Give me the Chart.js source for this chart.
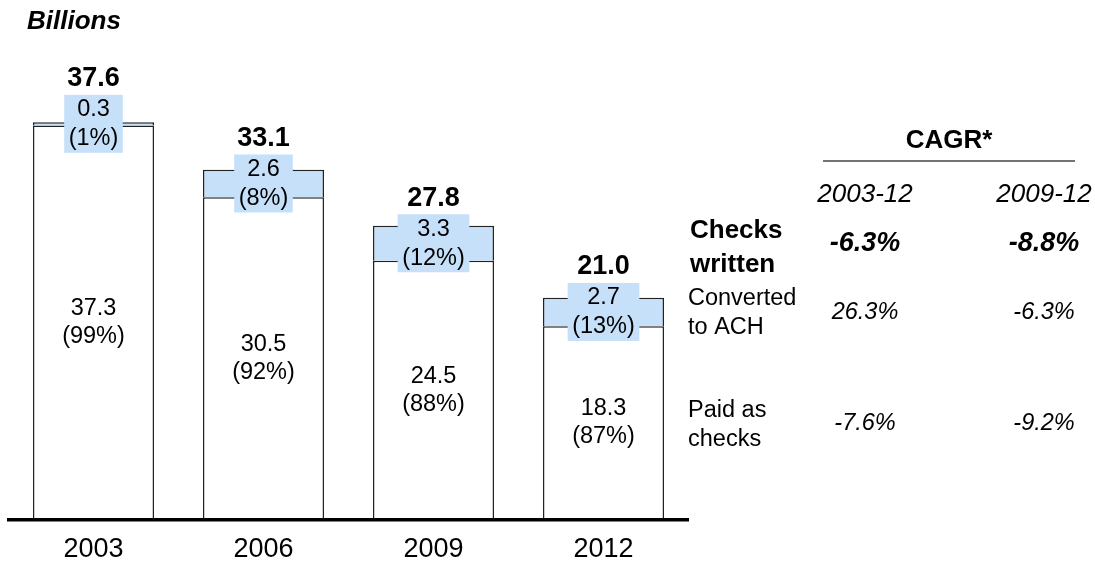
<!DOCTYPE html>
<html>
<head>
<meta charset="utf-8">
<script src="https://cdn.jsdelivr.net/npm/chart.js@4"></script>
<style>
    body { margin: 0; background: #fff; }
    #wrap { width: 1095px; height: 567px; }
</style>
</head>
<body>
<div id="wrap"><canvas id="checksChart" width="1095" height="567"></canvas></div>
<script>
const years = ["2003", "2006", "2009", "2012"];
const paidAsChecks = [37.3, 30.5, 24.5, 18.3];
const convertedToAch = [0.3, 2.6, 3.3, 2.7];
const paidShare = ["99%", "92%", "88%", "87%"];
const achShare = ["1%", "8%", "12%", "13%"];

const cagrPeriods = ["2003-12", "2009-12"];
const cagrChecksWritten = ["-6.3%", "-8.8%"];
const cagrConverted = ["26.3%", "-6.3%"];
const cagrPaid = ["-7.6%", "-9.2%"];

const FONT = "Arial, 'Liberation Sans', sans-serif";
const achColor = "#C6E0F9";
const edgeColor = "#222";

const labelPlugin = {
    id: "barLabels",
    afterDatasetsDraw(chart) {
        const ctx = chart.ctx;
        const paidMeta = chart.getDatasetMeta(0);
        const achMeta = chart.getDatasetMeta(1);
        ctx.save();
        ctx.textAlign = "center";
        ctx.textBaseline = "middle";
        years.forEach((yr, i) => {
            const p = paidMeta.data[i];
            const a = achMeta.data[i];

            // paid as checks, centred in the white part
            const pMid = (p.y + p.base) / 2;
            ctx.font = "23.5px " + FONT;
            ctx.fillStyle = "#000";
            ctx.fillText(paidAsChecks[i].toFixed(1), p.x, pMid - 14);
            ctx.fillText("(" + paidShare[i] + ")", p.x, pMid + 14);

            // converted to ACH, blue box over the thin segment
            const aMid = (a.y + a.base) / 2;
            const l1 = convertedToAch[i].toFixed(1);
            const l2 = "(" + achShare[i] + ")";
            const w = Math.max(ctx.measureText(l1).width, ctx.measureText(l2).width) + 9;
            ctx.fillStyle = achColor;
            ctx.fillRect(a.x - w / 2, aMid - 29, w, 58);
            ctx.fillStyle = "#000";
            ctx.fillText(l1, a.x, aMid - 14);
            ctx.fillText(l2, a.x, aMid + 15);

            // total on top
            const total = (paidAsChecks[i] + convertedToAch[i]).toFixed(1);
            ctx.font = "bold 27px " + FONT;
            ctx.fillText(total, a.x, aMid - 29 - 16);
        });
        ctx.restore();
    },
    afterDraw(chart) {
        const ctx = chart.ctx;
        ctx.save();
        ctx.fillStyle = "#000";
        ctx.textBaseline = "middle";

        ctx.textAlign = "left";
        ctx.font = "italic bold 26px " + FONT;
        ctx.fillText("Billions", 27, 22);

        // CAGR table
        const colX = [865, 1044];
        ctx.textAlign = "center";
        ctx.font = "bold 26px " + FONT;
        ctx.fillText("CAGR*", 949, 141);
        ctx.strokeStyle = "#444";
        ctx.lineWidth = 1.5;
        ctx.beginPath();
        ctx.moveTo(823, 161);
        ctx.lineTo(1075, 161);
        ctx.stroke();

        ctx.font = "italic 26px " + FONT;
        cagrPeriods.forEach((t, j) => ctx.fillText(t, colX[j], 195));

        ctx.textAlign = "left";
        ctx.font = "bold 26px " + FONT;
        ctx.fillText("Checks", 690, 231);
        ctx.fillText("written", 690, 265);
        ctx.font = "23.5px " + FONT;
        ctx.fillText("Converted", 688, 299);
        ctx.fillText("to ACH", 688, 328);
        ctx.fillText("Paid as", 688, 411);
        ctx.fillText("checks", 688, 440);

        ctx.textAlign = "center";
        ctx.font = "italic bold 27px " + FONT;
        cagrChecksWritten.forEach((t, j) => ctx.fillText(t, colX[j], 244));
        ctx.font = "italic 23.5px " + FONT;
        cagrConverted.forEach((t, j) => ctx.fillText(t, colX[j], 312));
        cagrPaid.forEach((t, j) => ctx.fillText(t, colX[j], 423));
        ctx.restore();
    }
};

document.addEventListener("DOMContentLoaded", () => {
    const ctx = document.getElementById("checksChart").getContext("2d");
    new Chart(ctx, {
        type: "bar",
        data: {
            labels: years,
            datasets: [{
                label: "Paid as checks",
                data: paidAsChecks,
                backgroundColor: "#fff",
                borderColor: edgeColor,
                borderWidth: 1.5
            }, {
                label: "Converted to ACH",
                data: convertedToAch,
                backgroundColor: achColor,
                borderColor: edgeColor,
                borderWidth: 1.5
            }]
        },
        options: {
            responsive: false,
            animation: false,
            categoryPercentage: 1,
            barPercentage: 0.712,
            layout: { padding: { left: 8.5, right: 406.5, top: 44, bottom: -13 } },
            plugins: {
                legend: { display: false },
                tooltip: { enabled: false }
            },
            scales: {
                x: {
                    stacked: true,
                    grid: { display: false, drawTicks: false, tickLength: 0 },
                    border: { display: true, color: "#000", width: 3.5, z: 1 },
                    ticks: { color: "#000", padding: 14, font: { family: FONT, size: 27 } }
                },
                y: {
                    stacked: true,
                    display: false,
                    min: 0,
                    max: 45
                }
            }
        },
        plugins: [labelPlugin]
    });
});
</script>
</body>
</html>
